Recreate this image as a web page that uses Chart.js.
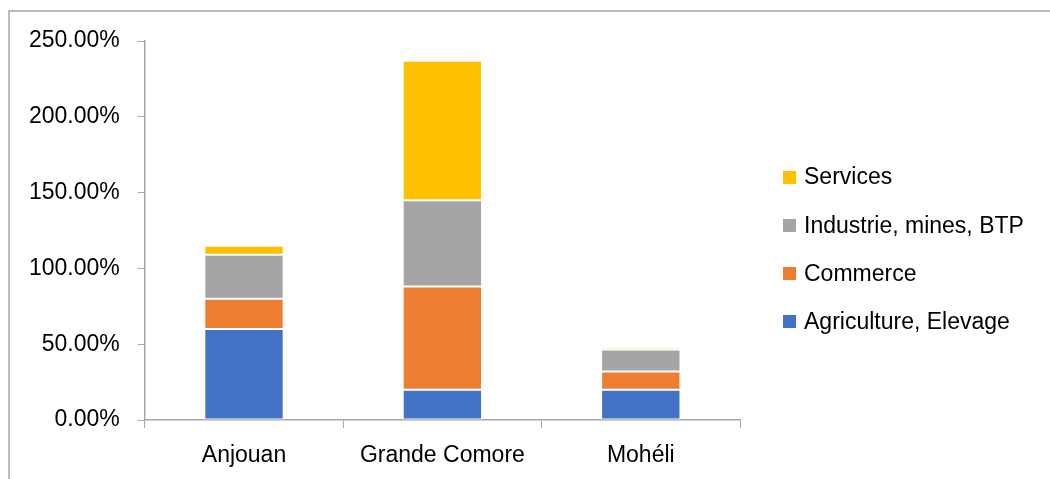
<!DOCTYPE html>
<html>
<head>
<meta charset="utf-8">
<script src="https://cdn.jsdelivr.net/npm/chart.js@4.4.1/dist/chart.umd.min.js"></script>
<style>
  html, body { margin: 0; padding: 0; background: #fff; }
  #wrap { width: 1050px; height: 479px; }
</style>
</head>
<body>
<div id="wrap"><canvas id="chart"></canvas></div>
<script>
const categories = ['Anjouan', 'Grande Comore', 'Mohéli'];
const agriculture = [60, 20, 20];
const commerce = [20, 68, 12];
const industrie = [29, 57, 14.5];
const services = [6, 92, 1.5];
const yTicks = [0, 50, 100, 150, 200, 250];

const police = 'Liberation Sans';
const gris = '#a6a6a6';

// cadre gris en haut et a gauche
const cadre = {
  id: 'cadre',
  afterDraw(chart) {
    const c = chart.ctx;
    c.save();
    c.strokeStyle = gris;
    c.lineWidth = 1.5;
    c.beginPath();
    c.moveTo(9, chart.height);
    c.lineTo(9, 11);
    c.lineTo(chart.width, 11);
    c.stroke();
    c.restore();
  }
};

// legende a droite, dessinee a partir des datasets (ordre inverse)
const legende = {
  id: 'legende',
  afterDraw(chart) {
    const c = chart.ctx;
    const sets = chart.data.datasets.slice().reverse();
    c.save();
    c.font = '23px "' + police + '"';
    c.textBaseline = 'middle';
    c.textAlign = 'left';
    sets.forEach((ds, i) => {
      const y = 177 + i * 48.3;
      c.fillStyle = ds.backgroundColor;
      c.fillRect(783, Math.round(y - 6.5), 13, 13);
      c.fillStyle = '#000';
      c.fillText(ds.label, 804, y + 1);
    });
    c.restore();
  }
};

function serie(label, data, color) {
  return {
    label: label,
    data: data,
    backgroundColor: color,
    borderColor: '#ffffff',
    borderWidth: 1,
    borderSkipped: false
  };
}

new Chart(document.getElementById('chart'), {
  type: 'bar',
  data: {
    labels: categories,
    datasets: [
      serie('Agriculture, Elevage', agriculture, '#4472c4'),
      serie('Commerce', commerce, '#ed7d31'),
      serie('Industrie, mines, BTP', industrie, '#a5a5a5'),
      serie('Services', services, '#ffc000')
    ]
  },
  options: {
    responsive: true,
    maintainAspectRatio: false,
    animation: false,
    categoryPercentage: 1,
    barPercentage: 0.4,
    layout: { padding: { left: 11, top: 41, bottom: 0, right: 310 } },
    scales: {
      x: {
        stacked: true,
        grid: { drawOnChartArea: false, drawTicks: true, tickLength: 8, color: gris },
        border: { display: true, color: gris, width: 1.5 },
        ticks: { color: '#000', padding: 14, font: { family: police, size: 23 } },
        afterFit(scale) { scale.height = 59; }
      },
      y: {
        stacked: true,
        min: 0,
        max: 250,
        afterBuildTicks(scale) {
          scale.ticks = yTicks.map(v => ({ value: v }));
        },
        grid: { drawOnChartArea: false, drawTicks: true, tickLength: 7, color: gris },
        border: { display: true, color: gris, width: 1.5 },
        ticks: {
          color: '#000',
          padding: 18,
          font: { family: police, size: 23 },
          callback: v => v.toFixed(2) + '%'
        }
      }
    },
    plugins: {
      legend: { display: false },
      tooltip: { enabled: false }
    }
  },
  plugins: [cadre, legende]
});
</script>
</body>
</html>
